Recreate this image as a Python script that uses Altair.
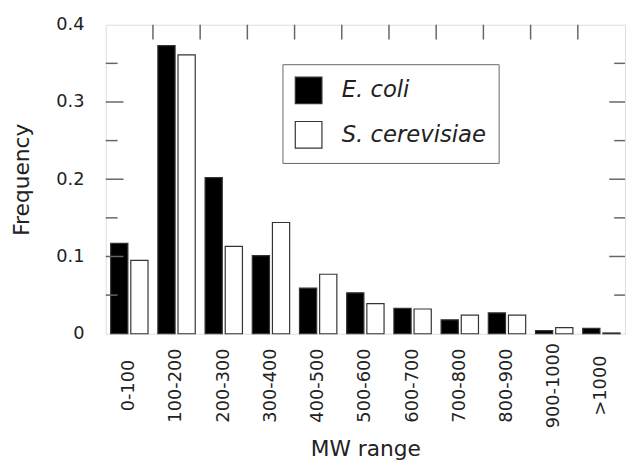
import altair as alt
import pandas as pd

categories = ["0-100", "100-200", "200-300", "300-400", "400-500", "500-600",
              "600-700", "700-800", "800-900", "900-1000", ">1000"]
series_names = ["E. coli", "S. cerevisiae"]
ecoli = [0.117, 0.373, 0.202, 0.101, 0.059, 0.053, 0.033, 0.018, 0.027, 0.004, 0.007]
yeast = [0.095, 0.361, 0.113, 0.144, 0.077, 0.039, 0.032, 0.024, 0.024, 0.008, 0.001]
major_ticks = [0.1, 0.2, 0.3]
minor_ticks = [0.05, 0.15, 0.25, 0.35]
boundaries = categories[1:]

W, H = 526, 313
FONT = "DejaVu Sans"
FRAME = "#666666"

rows = []
for c, a, b in zip(categories, ecoli, yeast):
    rows.append({"cat": c, "series": series_names[0], "freq": a})
    rows.append({"cat": c, "series": series_names[1], "freq": b})
bars_df = pd.DataFrame(rows)

xscale = alt.Scale(domain=categories, paddingInner=0, paddingOuter=0)
yscale = alt.Scale(domain=[0, 0.4], nice=False)

bars = alt.Chart(bars_df).mark_bar(stroke="#333333", strokeWidth=1.2).encode(
    x=alt.X("cat:N", scale=xscale, sort=categories,
            axis=alt.Axis(title="MW range", labelAngle=270, labelAlign="center",
                          labelBaseline="middle", labelPadding=52, ticks=False,
                          tickSize=0, domain=False, labelFont=FONT, labelFontSize=18,
                          labelColor="#222222", titleFont=FONT, titleFontSize=22,
                          titleFontWeight="normal", titleColor="#222222",
                          titlePadding=11, labelOverlap=False)),
    xOffset=alt.XOffset("series:N", sort=series_names,
                        scale=alt.Scale(domain=series_names, paddingInner=0.146,
                                        paddingOuter=0.244)),
    y=alt.Y("freq:Q", scale=yscale,
            axis=alt.Axis(title="Frequency", values=[0, 0.1, 0.2, 0.3, 0.4],
                          labelExpr="datum.value == 0 ? '0' : format(datum.value, '.1f')",
                          ticks=False, tickSize=0, domain=False, grid=False,
                          labelPadding=22, labelFont=FONT, labelFontSize=18,
                          labelColor="#222222", titleFont=FONT, titleFontSize=22,
                          titleFontWeight="normal", titleColor="#222222",
                          titlePadding=23)),
    fill=alt.Fill("series:N", sort=series_names,
                  scale=alt.Scale(domain=series_names, range=["#000000", "#ffffff"]),
                  legend=alt.Legend(title=None, orient="none", legendX=179, legendY=40,
                                    strokeColor=FRAME, padding=12, symbolType="square",
                                    symbolSize=729, symbolStrokeColor="#333333",
                                    symbolStrokeWidth=1.2, labelFont=FONT,
                                    labelFontSize=23, labelFontStyle="italic",
                                    labelColor="#222222", labelOffset=19,
                                    rowPadding=12)),
)

top_ticks = alt.Chart(pd.DataFrame({"cat": boundaries})).mark_rule(
    color=FRAME, strokeWidth=1.5).encode(
    x=alt.X("cat:N", scale=xscale, sort=categories, bandPosition=0),
    y=alt.value(0), y2=alt.value(15))

major_df = pd.DataFrame({"v": major_ticks})
minor_df = pd.DataFrame({"v": minor_ticks})

left_major = alt.Chart(major_df).mark_rule(color=FRAME, strokeWidth=1.5).encode(
    y=alt.Y("v:Q", scale=yscale), x=alt.value(0), x2=alt.value(18))
left_minor = alt.Chart(minor_df).mark_rule(color=FRAME, strokeWidth=1.5).encode(
    y=alt.Y("v:Q", scale=yscale), x=alt.value(0), x2=alt.value(12))
right_major = alt.Chart(major_df).mark_rule(color=FRAME, strokeWidth=1.5).encode(
    y=alt.Y("v:Q", scale=yscale), x=alt.value(W), x2=alt.value(W - 16))
right_minor = alt.Chart(minor_df).mark_rule(color=FRAME, strokeWidth=1.5).encode(
    y=alt.Y("v:Q", scale=yscale), x=alt.value(W), x2=alt.value(W - 11))

chart = alt.layer(bars, top_ticks, left_major, left_minor, right_major, right_minor).properties(
    width=W, height=H,
    autosize=alt.AutoSizeParams(type="none"),
    padding={"left": 99, "top": 14, "right": 1, "bottom": 128},
).configure_view(stroke=FRAME, strokeWidth=1.5).configure(background="white")

chart.save("out.html", embed_options={"renderer": "svg", "actions": False})
